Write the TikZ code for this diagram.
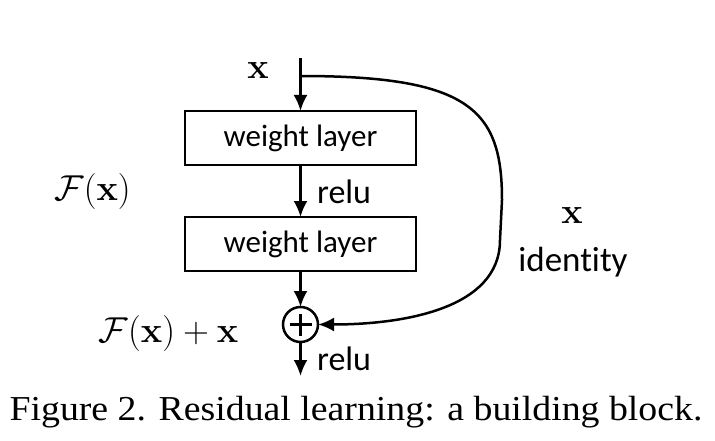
\RequirePackage{fix-cm}
\documentclass[tikz,border=0pt]{standalone}
\usepackage[no-math]{fontspec}
\newfontfamily\boxfont[Ligatures={NoCommon,NoContextual}]{Carlito}
\newfontfamily\capfont[FakeStretch=1.08]{Liberation Serif}
\usetikzlibrary{arrows.meta}
\usetikzlibrary{positioning}
\tikzset{
    layer/.style={
           rectangle,
           draw=black, line width=2.5pt,
           minimum width=231pt,
           minimum height=54pt,
           outer sep=0pt,
           font=\boxfont\fontsize{31}{33}\selectfont,
           text centered,
           },
    adder/.style={
           circle,
           draw=black, line width=2.5pt,
           minimum size=35pt,
           inner sep=0pt,
           outer sep=0pt,
           path picture={
             \draw[-,line width=2.5pt] (path picture bounding box.center) ++(-11pt,0) -- ++(22pt,0);
             \draw[-,line width=2.5pt] (path picture bounding box.center) ++(0,-11pt) -- ++(0,22pt);
           },
           },
    lbl/.style={
           font=\boxfont\fontsize{34}{36}\selectfont,
           },
    mlbl/.style={
           font=\fontsize{36}{40}\selectfont,
           },
}

\begin{document}
\begin{tikzpicture}[x=1pt,y=-1pt,->,>={Latex[length=16pt,width=14pt]},line width=2.5pt]
  \useasboundingbox (0,0) rectangle (715,441);
  \coordinate (in) at (300.5,58);
  \coordinate (split) at (300.5,76);
  \node[layer] (W1) at (300.5,138) {weight layer};
  \node[layer, below=52pt of W1] (W2) {weight layer};
  \node[adder] (ADD) at (300.5,324.5) {};
  \coordinate (out) at (300.5,376);
  % labels
  \node[mlbl] (X) at (258,71) {$\mathbf{x}$};
  \node[mlbl] (FX) at (92.5,192) {$\mathcal{F}(\mathbf{x})$};
  \node[mlbl] (FXX) at (168.5,333) {$\mathcal{F}(\mathbf{x})+\mathbf{x}$};
  \node[mlbl] (XID) at (572,215) {$\mathbf{x}$};
  \node[lbl,font=\boxfont\fontsize{35}{37}\selectfont] (ID) at (573,262) {identity};
  \node[anchor=base west,font=\capfont\fontsize{35}{38}\selectfont] (CAP) at (5,420)
    {Figure 2. Residual learning: a building block.};
  % main path and shortcut
  \draw (in) -- (W1);
  \path
    (W1) edge node[lbl,right,xshift=12pt,yshift=-1pt] {relu} (W2)
    (W2) edge (ADD)
    (ADD) edge node[lbl,right,xshift=12pt] {relu} (out);
  \draw (split) .. controls (470,76) and (502,110) .. (502,200)
    -- (500,240) .. controls (500,310) and (400,324.5) .. (ADD.east);
\end{tikzpicture}
\end{document}
